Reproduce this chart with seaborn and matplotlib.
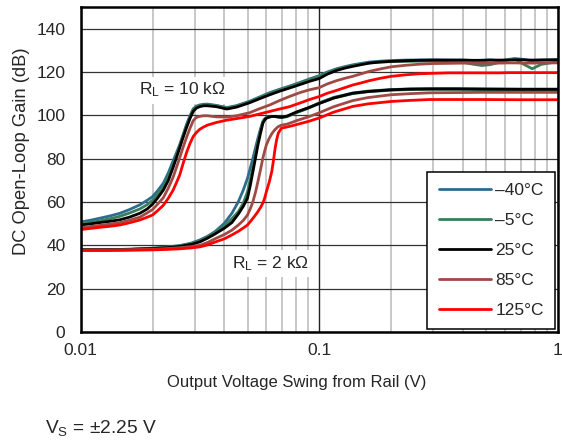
import numpy as np
import pandas as pd
import seaborn as sns
import matplotlib.pyplot as plt
from matplotlib.ticker import LogLocator, FixedLocator, NullFormatter, FuncFormatter

# output swing from rail (V), R_L = 10 kOhm curves
x_10k = [0.01, 0.011, 0.012, 0.0133, 0.0146, 0.016, 0.0177, 0.019, 0.02, 0.021,
         0.0222, 0.0233, 0.0244, 0.0252, 0.026, 0.0269, 0.0278, 0.0287, 0.0296, 0.0305,
         0.0315, 0.0327, 0.034, 0.037, 0.041, 0.045, 0.051, 0.056, 0.062, 0.068,
         0.075, 0.083, 0.091, 0.1, 0.108, 0.118, 0.128, 0.138, 0.15, 0.162,
         0.18, 0.2, 0.23, 0.263, 0.3, 0.35, 0.4, 0.44, 0.48, 0.52,
         0.57, 0.62, 0.66, 0.72, 0.78, 0.85, 1.0]
g10k_m40 = [50.8, 51.6, 52.5, 53.6, 54.8, 56.5, 58.7, 60.8, 62.5, 65.2,
            68.7, 73.5, 79.0, 82.8, 86.5, 91.3, 96.0, 99.8, 103.0, 104.2,
            104.8, 105.1, 105.2, 104.6, 103.6, 104.5, 106.5, 108.4, 110.5, 112.0,
            113.5, 115.2, 116.8, 118.3, 120.0, 121.5, 122.5, 123.3, 124.0, 124.6,
            125.0, 125.3, 125.5, 125.6, 125.6, 125.5, 125.5, 125.3, 125.4, 125.6,
            125.2, 125.8, 126.2, 125.8, 125.0, 125.4, 125.8]
g10k_m5 = [50.0, 50.6, 51.3, 52.3, 53.4, 54.9, 56.8, 58.8, 60.8, 63.6,
           67.0, 71.8, 77.0, 81.5, 86.0, 90.8, 95.5, 99.3, 102.5, 103.8,
           104.5, 104.8, 104.9, 104.4, 103.4, 104.2, 106.2, 108.1, 110.2, 111.7,
           113.2, 114.9, 116.5, 118.0, 119.7, 121.2, 122.2, 123.0, 123.7, 124.2,
           124.6, 124.8, 124.9, 125.0, 125.0, 124.8, 124.5, 123.6, 123.0, 123.4,
           124.5, 125.6, 126.0, 123.5, 121.5, 123.5, 124.8]
g10k_25 = [49.4, 49.9, 50.5, 51.1, 51.8, 53.0, 54.8, 56.8, 59.0, 61.8,
           65.5, 70.0, 76.0, 80.5, 85.0, 90.0, 94.5, 98.5, 101.8, 103.3,
           104.0, 104.4, 104.4, 104.0, 102.9, 103.8, 105.8, 107.6, 109.5, 111.1,
           112.6, 114.2, 115.7, 117.0, 119.0, 120.7, 121.8, 122.6, 123.4, 124.1,
           124.6, 124.9, 125.2, 125.4, 125.5, 125.5, 125.5, 125.4, 125.4, 125.5,
           125.5, 125.5, 125.6, 125.6, 125.5, 125.6, 125.6]
g10k_85 = [48.2, 48.7, 49.2, 49.8, 50.5, 51.6, 53.0, 55.0, 56.5, 59.0,
           62.0, 66.5, 71.5, 76.0, 80.5, 85.5, 90.0, 94.0, 97.5, 99.0,
           99.5, 99.8, 99.8, 99.3, 99.2, 99.8, 101.2, 103.0, 104.8, 106.8,
           108.7, 110.5, 111.8, 112.8, 114.5, 116.0, 117.1, 118.0, 119.2, 120.3,
           121.4, 122.4, 123.1, 123.6, 123.9, 124.0, 124.1, 124.1, 124.1, 124.1,
           124.1, 124.2, 124.2, 124.1, 124.1, 124.2, 124.2]
g10k_125 = [47.3, 47.8, 48.3, 48.8, 49.4, 50.4, 51.7, 53.0, 54.0, 56.0,
            58.5, 61.8, 65.5, 69.0, 72.5, 78.0, 83.0, 87.0, 90.2, 92.0,
            93.5, 94.6, 95.5, 96.7, 97.8, 98.5, 99.5, 100.6, 101.8, 102.9,
            104.0, 105.7, 107.3, 108.7, 110.2, 111.5, 112.8, 114.0, 115.0, 116.0,
            117.1, 118.0, 118.7, 119.2, 119.4, 119.6, 119.6, 119.6, 119.6, 119.6,
            119.6, 119.7, 119.7, 119.7, 119.7, 119.7, 119.7]

# R_L = 2 kOhm curves
x_2k = [0.01, 0.013, 0.016, 0.02, 0.023, 0.026, 0.029, 0.0316, 0.034, 0.0365,
        0.04, 0.043, 0.0458, 0.048, 0.05, 0.0514, 0.0527, 0.054, 0.0553, 0.0567,
        0.058, 0.059, 0.06, 0.0616, 0.0632, 0.0643, 0.0653, 0.0663, 0.0673, 0.0694,
        0.073, 0.077, 0.08, 0.09, 0.1, 0.115, 0.138, 0.16, 0.2, 0.24,
        0.29, 0.38, 0.48, 0.7, 1.0]
g2k_m40 = [38.0, 38.0, 38.2, 38.7, 39.2, 39.9, 41.0, 42.5, 44.2, 46.3,
           50.2, 54.8, 60.2, 65.5, 71.0, 75.8, 80.3, 85.0, 89.5, 93.8,
           97.2, 98.4, 99.0, 99.4, 99.5, 99.5, 99.4, 99.3, 99.2, 99.0,
           99.4, 100.5, 101.3, 103.5, 105.8, 108.3, 110.3, 111.2, 111.9, 112.2,
           112.3, 112.3, 112.2, 112.1, 112.1]
g2k_m5 = [38.0, 38.0, 38.2, 38.6, 39.1, 39.7, 40.7, 42.0, 43.7, 45.8,
          48.8, 52.3, 55.6, 59.5, 64.8, 70.5, 76.4, 82.3, 88.0, 93.0,
          97.0, 98.2, 98.8, 99.2, 99.4, 99.4, 99.4, 99.3, 99.2, 99.0,
          99.4, 100.4, 101.2, 103.3, 105.5, 108.0, 110.0, 110.9, 111.6, 111.9,
          112.0, 112.0, 111.9, 111.8, 111.8]
g2k_25 = [38.0, 38.0, 38.1, 38.5, 38.9, 39.5, 40.4, 41.6, 43.3, 45.2,
          47.9, 50.5, 54.5, 58.0, 61.8, 67.8, 74.1, 80.3, 86.4, 91.8,
          96.4, 97.8, 98.7, 99.2, 99.5, 99.5, 99.5, 99.4, 99.3, 99.1,
          99.6, 100.7, 101.5, 103.5, 105.5, 108.0, 110.2, 111.0, 111.8, 112.1,
          112.2, 112.2, 112.1, 112.0, 112.0]
g2k_85 = [37.9, 37.9, 38.0, 38.2, 38.5, 38.9, 39.4, 40.0, 41.3, 43.0,
          45.0, 47.0, 49.4, 51.5, 54.0, 57.0, 60.2, 64.5, 69.5, 75.0,
          80.3, 83.5, 86.4, 89.3, 91.5, 92.6, 93.5, 94.2, 94.8, 95.5,
          95.9, 96.8, 97.5, 99.3, 101.2, 104.0, 106.8, 108.2, 109.5, 110.0,
          110.4, 110.5, 110.6, 110.6, 110.6]
g2k_125 = [37.6, 37.6, 37.7, 37.9, 38.1, 38.4, 38.8, 39.3, 40.2, 41.5,
           43.0, 44.8, 46.5, 48.0, 49.4, 51.0, 52.5, 54.0, 55.6, 57.5,
           59.5, 61.8, 64.8, 69.0, 74.1, 79.5, 85.0, 89.0, 91.8, 94.1,
           94.6, 95.2, 95.7, 97.2, 98.8, 101.5, 104.1, 105.3, 106.4, 106.9,
           107.3, 107.3, 107.3, 107.2, 107.2]

temps = ['\u201340\u00b0C', '\u20135\u00b0C', '25\u00b0C', '85\u00b0C', '125\u00b0C']
colors = ['#2E6C8E', '#3A7D5C', '#000000', '#A04A45', '#FF0000']

rows = []
for load, xs, curves in [('10k', x_10k, [g10k_m40, g10k_m5, g10k_25, g10k_85, g10k_125]),
                         ('2k', x_2k, [g2k_m40, g2k_m5, g2k_25, g2k_85, g2k_125])]:
    for t, ys in zip(temps, curves):
        for xv, yv in zip(xs, ys):
            rows.append((load, t, xv, yv))
df = pd.DataFrame(rows, columns=['load', 'temp', 'vout', 'gain'])

sns.set_style("white")
plt.rcParams['font.family'] = ['Liberation Sans', 'DejaVu Sans']
plt.rcParams['font.size'] = 12.5

fig = plt.figure(figsize=(5.62, 4.43), dpi=100)
ax = fig.add_axes([80.7 / 562, 1 - 332 / 443, (558 - 80.7) / 562, (332 - 7) / 443])

sns.lineplot(data=df, x='vout', y='gain', hue='temp', units='load', estimator=None,
             hue_order=temps, palette=colors, lw=2, ax=ax)

ax.set_xscale('log')
ax.set_xlim(0.01, 1)
ax.set_ylim(0, 150)
ax.set_yticks(np.arange(0, 141, 20))
ax.xaxis.set_major_locator(FixedLocator([0.01, 0.1, 1]))
ax.xaxis.set_major_formatter(FuncFormatter(lambda v, p: '%g' % v))
ax.xaxis.set_minor_locator(LogLocator(base=10, subs=np.arange(2, 10)))
ax.xaxis.set_minor_formatter(NullFormatter())
ax.tick_params(which='both', length=0)
ax.tick_params(axis='y', pad=11)
ax.tick_params(axis='x', pad=8)

ax.set_axisbelow(True)
ax.grid(True, which='minor', axis='x', color='#C8C8C8', lw=1.4)
ax.grid(True, which='major', axis='x', color='#222222', lw=1.0)
ax.grid(True, which='major', axis='y', color='#333333', lw=0.9)
for s in ax.spines.values():
    s.set_visible(True)
    s.set_color('black')
    s.set_linewidth(1.8)

ax.set_xlabel('Output Voltage Swing from Rail (V)', fontsize=12)
ax.set_ylabel('DC Open-Loop Gain (dB)', fontsize=13.2)
ax.xaxis.set_label_coords(0.453, -0.132)
ax.yaxis.set_label_coords(-0.106, 0.555)

box = dict(facecolor='white', edgecolor='none', pad=3)
ax.text(0.0176, 109.5, r'R$\mathregular{_L}$ = 10 k$\mathregular{\Omega}$', ha='left', va='baseline', bbox=box, zorder=1.5)
ax.text(0.0429, 29.4, r'R$\mathregular{_L}$ = 2 k$\mathregular{\Omega}$', ha='left', va='baseline', bbox=box, zorder=1.5)

handles, labels = ax.get_legend_handles_labels()
leg = ax.legend(handles, labels, loc='lower right', bbox_to_anchor=(0.9937, 0.0092),
                borderaxespad=0, fancybox=False, framealpha=1, edgecolor='black',
                handlelength=3.0, handletextpad=0.25, labelspacing=0.85, borderpad=0.65)
leg.get_frame().set_linewidth(1.1)

fig.text(45 / 562, 1 - 433 / 443, 'V$\\mathregular{_S}$ = \u00b12.25 V', ha='left', va='baseline', fontsize=13.8)

fig.savefig('out.png', dpi=100)
